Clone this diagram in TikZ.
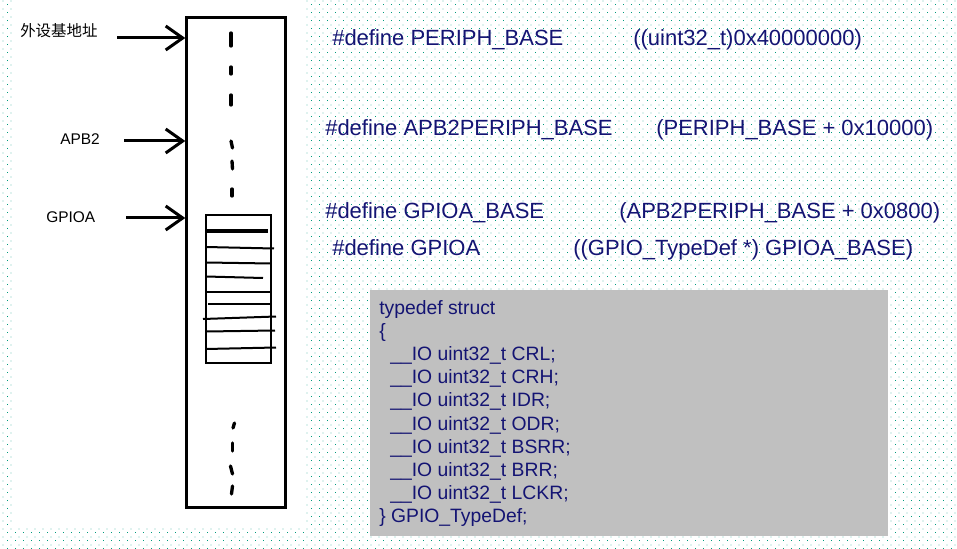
\documentclass[tikz,border=0pt]{standalone}
\usepackage{fontspec}
\setmainfont{Liberation Sans}
\newfontfamily\cjkfont{Noto Sans CJK SC}
\usepackage{xcolor}
\usetikzlibrary{patterns}
\usetikzlibrary{arrows.meta}
\definecolor{codeblue}{RGB}{20,20,115}
\definecolor{dotteal}{RGB}{0,155,125}
\definecolor{boxgray}{RGB}{192,192,192}
\pgfdeclarepatternformonly{stagdots}{\pgfqpoint{0pt}{0pt}}{\pgfqpoint{6pt}{6pt}}{\pgfqpoint{6pt}{6pt}}{%
  \pgfpathrectangle{\pgfqpoint{0pt}{0pt}}{\pgfqpoint{0.75pt}{0.75pt}}%
  \pgfpathrectangle{\pgfqpoint{3pt}{3pt}}{\pgfqpoint{0.75pt}{0.75pt}}%
  \pgfusepath{fill}}

\begin{document}
\begin{tikzpicture}[x=0.75pt,y=-0.75pt,
  addrarrow/.style={line width=2.25pt,-{Straight Barb[length=12.75pt,width=18pt]}},
  dashpiece/.style={line width=2.5pt,line cap=round},
  regline/.style={line width=1.5pt},
  lbl/.style={anchor=west,inner sep=0pt,font=\fontsize{11.6pt}{14pt}\selectfont},
  defline/.style={anchor=base west,inner sep=0pt,text=codeblue,font=\fontsize{16.5pt}{20pt}\selectfont},
  codeline/.style={anchor=base west,inner sep=0pt,text=codeblue,font=\fontsize{14.5pt}{17pt}\selectfont}]
 \useasboundingbox (0,0) rectangle (957,549);
 \fill[pattern=stagdots,pattern color=dotteal] (0,0) rectangle (957,549);
 \fill[white] (12,0) rectangle (305,528);
 \fill[boxgray] (370,290) rectangle (888,536);

 % memory map column
 \node[draw,line width=2.25pt,fill=white,minimum width=73.65pt,minimum height=368pt,inner sep=0pt] (mem) at (235.9,262.65) {};
 \draw[dashpiece] (231,33)--(231,46);
 \draw[dashpiece] (231,67)--(231,74);
 \draw[dashpiece] (231,95)--(231,105);
 \draw[dashpiece] (231,141)--(232.5,148);
 \draw[dashpiece] (232,161)--(232.5,169);
 \draw[dashpiece] (232,189)--(232,196);
 \draw[dashpiece] (234.5,423)--(233,428);
 \draw[dashpiece] (232.5,443)--(232.5,451);
 \draw[dashpiece] (230.5,466)--(232.5,474);
 \draw[dashpiece] (232.5,486)--(231.5,494);

 % GPIOA registers
 \draw[regline] (206,215) rectangle (271,363);
 \draw[line width=2.4pt] (206,231)--(268,231);
 \draw[regline] (206,247)--(274,248.5);
 \draw[regline] (206,262.5)--(271,263.5);
 \draw[regline] (206,276.5)--(263,278);
 \draw[line width=2pt] (206,292)--(271,292);
 \draw[regline] (208,304)--(271,304);
 \draw[regline] (203,319)--(276,316.5);
 \draw[regline] (206,331.5)--(275,330.5);
 \draw[regline] (206,349)--(276,347.5);

 % labels and arrows
 \node[lbl] (lblperiph) at (20,31) {\cjkfont 外设基地址};
 \node[lbl] (lblapb) at (60,139) {APB2};
 \node[lbl] (lblgpioa) at (46,217) {GPIOA};
 \coordinate (periphtail) at (117,38);
 \coordinate (apbtail) at (124,141);
 \coordinate (gpioatail) at (126,218);
 \draw[addrarrow] (periphtail)--(periphtail -| mem.west);
 \draw[addrarrow] (apbtail)--(apbtail -| mem.west);
 \draw[addrarrow] (gpioatail)--(gpioatail -| mem.west);

 % defines
 \node[defline] (defperiph) at (332,46) {\#define PERIPH\_BASE};
 \node[defline] (valperiph) at (633,46) {((uint32\_t)0x40000000)};
 \node[defline] (defapb) at (325,136) {\#define APB2PERIPH\_BASE};
 \node[defline] (valapb) at (656,136) {(PERIPH\_BASE + 0x10000)};
 \node[defline] (defgpioabase) at (325,219) {\#define GPIOA\_BASE};
 \node[defline] (valgpioabase) at (619,219) {(APB2PERIPH\_BASE + 0x0800)};
 \node[defline] (defgpioa) at (332,256) {\#define GPIOA};
 \node[defline] (valgpioa) at (573,256) {((GPIO\_TypeDef *) GPIOA\_BASE)};

 % struct
 \foreach \txt [count=\i from 0] in {typedef struct,\{,
   \hspace*{8.25pt}\_\_IO uint32\_t CRL;,\hspace*{8.25pt}\_\_IO uint32\_t CRH;,
   \hspace*{8.25pt}\_\_IO uint32\_t IDR;,\hspace*{8.25pt}\_\_IO uint32\_t ODR;,
   \hspace*{8.25pt}\_\_IO uint32\_t BSRR;,\hspace*{8.25pt}\_\_IO uint32\_t BRR;,
   \hspace*{8.25pt}\_\_IO uint32\_t LCKR;,\} GPIO\_TypeDef;}
   \node[codeline] (sline\i) at (379,314+23.2*\i) {\txt};

\end{tikzpicture}
\end{document}
